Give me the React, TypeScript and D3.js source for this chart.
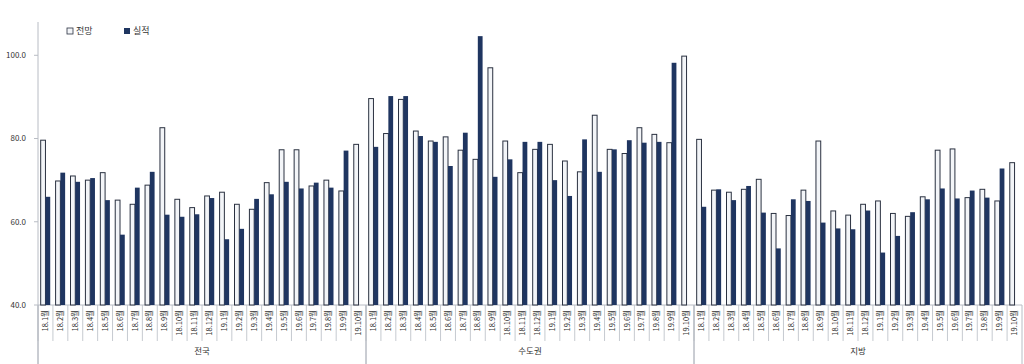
import React from "react";
import * as d3 from "d3";

const groups = ["전국", "수도권", "지방"];
const months = [
  "18.1월", "18.2월", "18.3월", "18.4월", "18.5월", "18.6월", "18.7월", "18.8월", "18.9월", "18.10월", "18.11월", "18.12월",
  "19.1월", "19.2월", "19.3월", "19.4월", "19.5월", "19.6월", "19.7월", "19.8월", "19.9월", "19.10월",
];
const seriesNames = ["전망", "실적"];
const yTicks = [40, 60, 80, 100];

// 전망 (forecast)
const forecastNational = [79.6, 69.8, 71.0, 70.0, 71.8, 65.2, 64.2, 68.8, 82.6, 65.4, 63.4, 66.2, 67.1, 64.2, 63.0, 69.4, 77.3, 77.3, 68.6, 70.0, 67.4, 78.6];
const forecastCapital = [89.6, 81.2, 89.4, 81.8, 79.4, 80.4, 77.2, 75.0, 97.0, 79.4, 71.8, 77.4, 78.6, 74.6, 72.0, 85.6, 77.4, 76.4, 82.6, 81.0, 79.0, 99.8];
const forecastLocal = [79.8, 67.6, 67.1, 67.8, 70.2, 62.0, 61.5, 67.6, 79.4, 62.6, 61.6, 64.2, 65.0, 62.0, 61.3, 66.0, 77.2, 77.5, 65.8, 67.8, 65.0, 74.2];

// 실적 (actual) — no value for 19.10월
const actualNational = [66.0, 71.8, 69.6, 70.5, 65.2, 56.9, 68.2, 72.0, 61.7, 61.2, 61.8, 65.7, 55.8, 58.3, 65.5, 66.6, 69.6, 68.0, 69.4, 68.2, 77.1];
const actualCapital = [78.0, 90.2, 90.2, 80.6, 79.2, 73.4, 81.4, 104.6, 70.8, 75.0, 79.2, 79.2, 70.0, 66.2, 79.8, 72.0, 77.4, 79.6, 79.0, 79.2, 98.2];
const actualLocal = [63.6, 67.8, 65.2, 68.6, 62.2, 53.6, 65.4, 65.0, 59.8, 58.4, 58.2, 62.7, 52.6, 56.6, 62.3, 65.4, 68.0, 65.6, 67.5, 65.8, 72.8];

const forecasts = [forecastNational, forecastCapital, forecastLocal];
const actuals = [actualNational, actualCapital, actualLocal];

const W = 1024;
const H = 364;
const FONT = "'Noto Sans CJK KR', 'Noto Sans', sans-serif";

export default function App() {
  const rows = groups.flatMap((g, gi) =>
    months.map((m, mi) => ({
      key: `${g}-${m}`,
      group: g,
      gi,
      month: m,
      forecast: forecasts[gi][mi],
      actual: actuals[gi][mi] as number | undefined,
    }))
  );

  const left = 38;
  const right = 1022;
  const top = 22;
  const bottom = 305;

  const x = d3.scaleBand<string>().domain(rows.map((r) => r.key)).range([left, right]).padding(0);
  const y = d3.scaleLinear().domain([40, 108]).range([bottom, top]);
  const step = x.step();
  const bw = step * 0.32;
  const pairOffset = (step - 2 * bw) / 2;

  const groupBounds = groups.map((g, gi) => {
    const first = x(`${g}-${months[0]}`)!;
    const last = x(`${g}-${months[months.length - 1]}`)! + step;
    return { g, first, last };
  });

  const lineColor = "#b8bcc4";
  const navy = "#1f3560";
  const outline = "#2a3140";

  return (
    <svg width={W} height={H} style={{ position: "absolute", left: 0, top: 0, background: "#fff" }} fontFamily={FONT}>
      {/* y axis */}
      <line x1={left} x2={left} y1={top} y2={H} stroke={lineColor} strokeWidth={1} />
      {yTicks.map((t) => (
        <g key={t}>
          <line x1={left - 4} x2={left} y1={y(t)} y2={y(t)} stroke={lineColor} />
          <text x={left - 12} y={y(t)} dy="0.35em" textAnchor="end" fontSize={8} fill="#333">
            {t.toFixed(1)}
          </text>
        </g>
      ))}
      {/* x baseline */}
      <line x1={left} x2={right} y1={bottom} y2={bottom} stroke={lineColor} />
      {/* category separators */}
      {rows.map((r) => (
        <line key={`sep-${r.key}`} x1={x(r.key)!} x2={x(r.key)!} y1={bottom} y2={341} stroke={lineColor} strokeWidth={0.8} />
      ))}
      {groupBounds.map((b) => (
        <g key={`gb-${b.g}`}>
          <line x1={b.first} x2={b.first} y1={bottom} y2={H} stroke={lineColor} />
          <line x1={b.last} x2={b.last} y1={bottom} y2={H} stroke={lineColor} />
          <text x={(b.first + b.last) / 2} y={354} textAnchor="middle" fontSize={8.5} fill="#333">
            {b.g}
          </text>
        </g>
      ))}
      {/* bars */}
      {rows.map((r) => {
        const x0 = x(r.key)! + pairOffset;
        return (
          <g key={`bar-${r.key}`}>
            <rect
              x={x0}
              y={y(r.forecast)}
              width={bw}
              height={bottom - y(r.forecast)}
              fill="#f3f5f8"
              stroke={outline}
              strokeWidth={1}
            />
            {r.actual !== undefined && (
              <rect
                x={x0 + bw}
                y={y(r.actual)}
                width={bw}
                height={bottom - y(r.actual)}
                fill={navy}
              />
            )}
          </g>
        );
      })}
      {/* month labels */}
      {rows.map((r) => {
        const cx = x(r.key)! + step / 2;
        return (
          <text
            key={`lbl-${r.key}`}
            transform={`translate(${cx},${310}) rotate(-90)`}
            dy="0.35em"
            textAnchor="end"
            fontSize={7.5}
            fill="#333"
          >
            {r.month}
          </text>
        );
      })}
      {/* legend */}
      <g fontSize={9} fill="#333">
        <rect x={67} y={28} width={6} height={6} fill="#f3f5f8" stroke={outline} strokeWidth={0.8} />
        <text x={76} y={31} dy="0.35em">{seriesNames[0]}</text>
        <rect x={124} y={28} width={6} height={6} fill={navy} />
        <text x={133} y={31} dy="0.35em">{seriesNames[1]}</text>
      </g>
    </svg>
  );
}
